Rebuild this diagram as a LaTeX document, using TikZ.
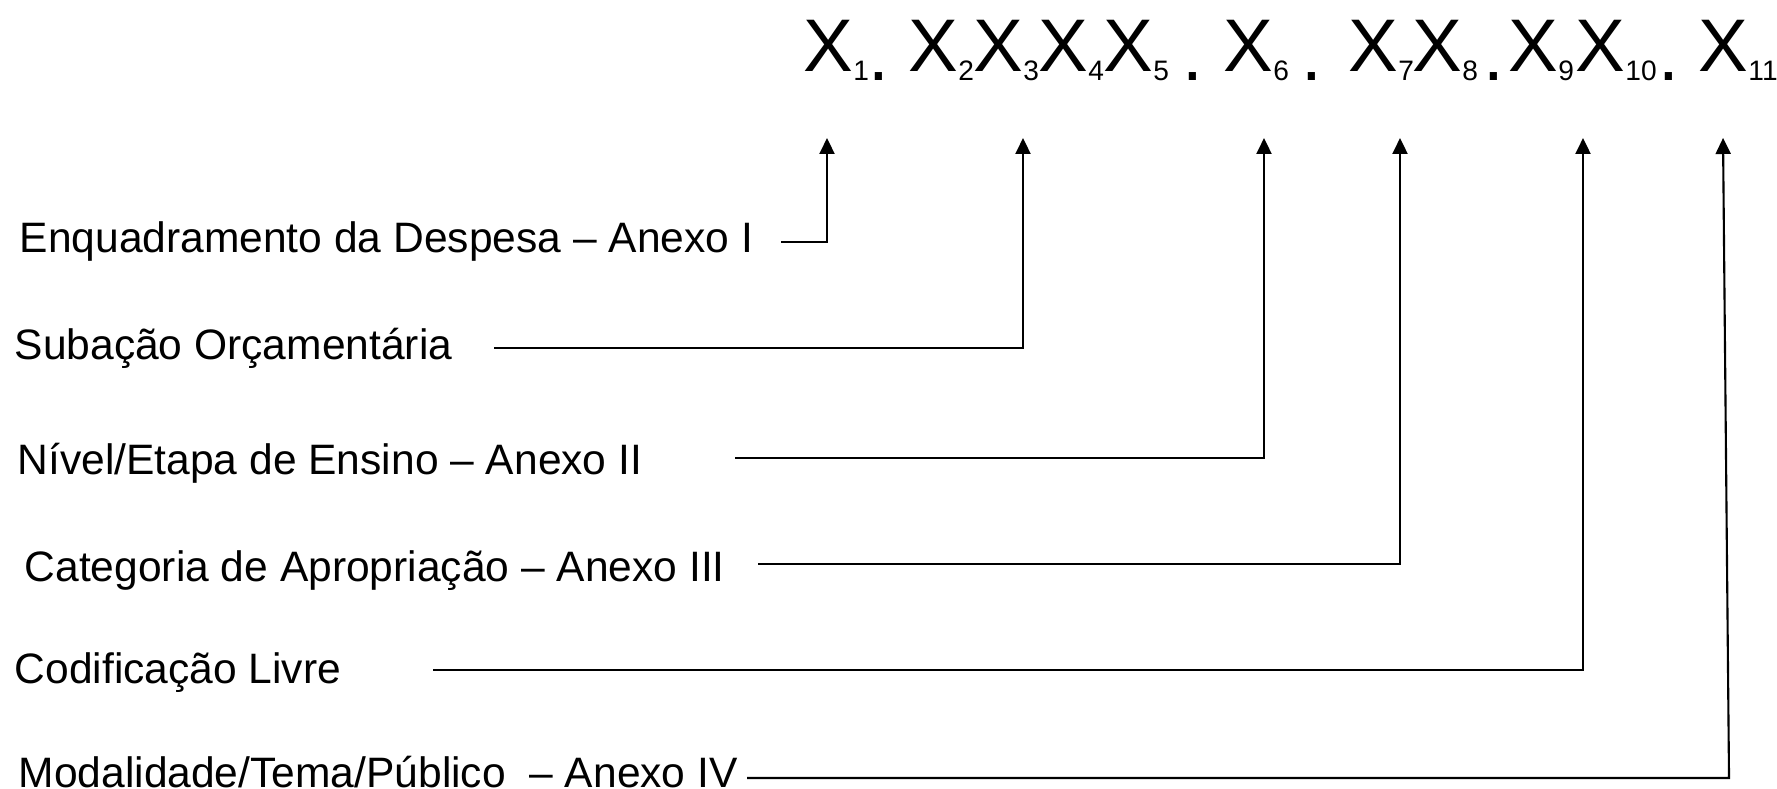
\documentclass[tikz,border=0pt]{standalone}
\usepackage{fontspec}
\setmainfont{Liberation Sans}
\usetikzlibrary{arrows.meta}
\newcommand{\xsub}[1]{\raisebox{-0.09cm}{\fontsize{8}{9}\selectfont #1}}
\begin{document}
\begin{tikzpicture}[x=0.01cm,y=-0.01cm,
  lbl/.style={anchor=base west, inner sep=0pt, font=\fontsize{12.1}{14}\selectfont},
  xg/.style={anchor=base west, inner sep=0pt, font=\fontsize{21.2}{25}\selectfont},
  conn/.style={line width=0.6pt, -{Triangle[length=0.16cm,width=0.15cm]}}]
\useasboundingbox (0,0) rectangle (1777,789);
% code formula
\node[xg] (x1)  at (803,72)  {X\xsub{1}};
\node[xg] (d1)  at (868,81)  {.};
\node[xg] (x2)  at (908,72)  {X\xsub{2}};
\node[xg] (x3)  at (973,72)  {X\xsub{3}};
\node[xg] (x4)  at (1038,72) {X\xsub{4}};
\node[xg] (x5)  at (1103,72) {X\xsub{5}};
\node[xg] (d2)  at (1182,81) {.};
\node[xg] (x6)  at (1223,72) {X\xsub{6}};
\node[xg] (d3)  at (1301,81) {.};
\node[xg] (x7)  at (1348,72) {X\xsub{7}};
\node[xg] (x8)  at (1412,72) {X\xsub{8}};
\node[xg] (d4)  at (1483,81) {.};
\node[xg] (x9)  at (1508,72) {X\xsub{9}};
\node[xg] (x10) at (1575,72) {X\xsub{10}};
\node[xg] (d5)  at (1658,81) {.};
\node[xg] (x11) at (1698,72) {X\xsub{11}};
% labels
\node[lbl] (l1) at (19,253) {Enquadramento da Despesa – Anexo I};
\node[lbl] (l2) at (14,360) {Subação Orçamentária};
\node[lbl] (l3) at (17,475) {Nível/Etapa de Ensino – Anexo II};
\node[lbl] (l4) at (24,581) {Categoria de Apropriação – Anexo III};
\node[lbl] (l5) at (14,683) {Codificação Livre};
\node[lbl] (l6) at (18,787) {Modalidade/Tema/Público\ \ – Anexo IV};
% connector ends
\coordinate (s1) at (781,242);  \coordinate (t1) at (827,138);
\coordinate (s2) at (494,348);  \coordinate (t2) at (1023,138);
\coordinate (s3) at (735,458);  \coordinate (t3) at (1264,138);
\coordinate (s4) at (758,564);  \coordinate (t4) at (1400,138);
\coordinate (s5) at (433,670);  \coordinate (t5) at (1583,138);
\coordinate (s6) at (747,778);  \coordinate (c6) at (1729,778);
\coordinate (t6) at (1723,138);
\draw[conn] (s1) -| (t1);
\draw[conn] (s2) -| (t2);
\draw[conn] (s3) -| (t3);
\draw[conn] (s4) -| (t4);
\draw[conn] (s5) -| (t5);
\draw[conn] (s6) -- (c6) -- (t6);
\end{tikzpicture}
\end{document}
